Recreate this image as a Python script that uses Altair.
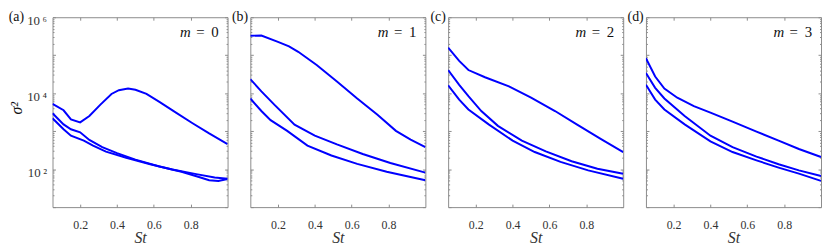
import altair as alt
import pandas as pd

# ---------------- data ----------------
# panel (a), m = 0
a1_x = [0.05, 0.11, 0.15, 0.20, 0.25, 0.31, 0.37, 0.41, 0.46, 0.50, 0.56, 0.63, 0.72, 0.81, 0.90, 1.00]
a1_y = [5250, 3550, 2040, 1700, 2510, 5010, 9550, 12000, 13200, 12300, 9550, 5890, 3090, 1620, 870, 457]
a2_x = [0.05, 0.11, 0.15, 0.20, 0.25, 0.32, 0.40, 0.50, 0.63, 0.75, 0.84, 0.90, 0.95, 1.00]
a2_y = [2950, 1510, 1120, 933, 589, 380, 263, 178, 117, 85, 63, 51, 49, 55]
a3_x = [0.05, 0.11, 0.15, 0.22, 0.27, 0.34, 0.45, 0.58, 0.70, 0.83, 0.93, 1.00]
a3_y = [2190, 1120, 760, 562, 417, 288, 200, 135, 98, 74, 60, 56]

# panel (b), m = 1
b1_x = [0.05, 0.11, 0.20, 0.26, 0.31, 0.41, 0.52, 0.63, 0.74, 0.84, 0.92, 1.00]
b1_y = [324000, 331000, 224000, 170000, 123000, 55000, 20400, 7240, 2690, 1020, 600, 380]
b2_x = [0.05, 0.11, 0.18, 0.29, 0.40, 0.52, 0.66, 0.81, 1.00]
b2_y = [23400, 11200, 5010, 1480, 759, 447, 251, 145, 81]
b3_x = [0.05, 0.11, 0.16, 0.25, 0.36, 0.49, 0.63, 0.79, 1.00]
b3_y = [7240, 3390, 1950, 1020, 417, 229, 138, 85, 51]

# panel (c), m = 2
c1_x = [0.05, 0.11, 0.16, 0.25, 0.38, 0.50, 0.63, 0.75, 0.88, 1.00]
c1_y = [158000, 70800, 40700, 26300, 15100, 7590, 3390, 1480, 617, 282]
c2_x = [0.05, 0.11, 0.16, 0.23, 0.32, 0.45, 0.58, 0.72, 0.86, 1.00]
c2_y = [40700, 16600, 8320, 3390, 1380, 562, 295, 162, 102, 76]
c3_x = [0.05, 0.11, 0.16, 0.27, 0.40, 0.52, 0.66, 0.81, 1.00]
c3_y = [16200, 6760, 3720, 1510, 562, 282, 155, 93, 56]

# panel (d), m = 3
d1_x = [0.05, 0.10, 0.15, 0.22, 0.31, 0.40, 0.52, 0.65, 0.77, 0.88, 1.00]
d1_y = [83200, 27500, 13200, 7590, 4570, 3090, 1780, 977, 562, 339, 209]
d2_x = [0.05, 0.10, 0.15, 0.26, 0.40, 0.52, 0.65, 0.77, 0.88, 1.00]
d2_y = [33900, 13800, 7240, 2510, 759, 380, 214, 135, 93, 66]
d3_x = [0.05, 0.10, 0.15, 0.26, 0.40, 0.52, 0.65, 0.77, 0.88, 1.00]
d3_y = [16600, 6760, 3720, 1510, 537, 282, 170, 110, 76, 49]

panel_letters = ["(a)", "(b)", "(c)", "(d)"]
panel_m = ["0", "1", "2", "3"]
x_ticks = [0.2, 0.4, 0.6, 0.8]
y_major = [10, 100, 1000, 10000, 100000, 1000000]
y_labels = [100, 10000, 1000000]
y_minor = [k * 10 ** e for e in range(1, 6) for k in range(2, 10)]

curves = [
    [(a1_x, a1_y), (a2_x, a2_y), (a3_x, a3_y)],
    [(b1_x, b1_y), (b2_x, b2_y), (b3_x, b3_y)],
    [(c1_x, c1_y), (c2_x, c2_y), (c3_x, c3_y)],
    [(d1_x, d1_y), (d2_x, d2_y), (d3_x, d3_y)],
]

rows = []
for p, plist in enumerate(curves):
    for c, (xs, ys) in enumerate(plist):
        for xv, yv in zip(xs, ys):
            rows.append({"panel": p, "curve": c, "St": xv, "sigma2": yv})
data = pd.DataFrame(rows)

# ---------------- style ----------------
W, H = 177, 192
FRAME = "#8c8c8c"
TXT = "#333333"
SERIF = "'Liberation Serif', 'DejaVu Serif', serif"
LINE = "#0000ff"


def make_panel(i):
    df = data[data.panel == i]
    xs = alt.Scale(domain=[0.05, 1.0], nice=False, zero=False)
    ys = alt.Scale(type="log", domain=[10, 1e6], nice=False)
    base = alt.Chart(df)

    x_main = alt.Axis(
        values=x_ticks, format=".1f", ticks=False, tickSize=0, domain=False, grid=False,
        labelFont=SERIF, labelFontSize=12, labelColor=TXT, labelPadding=13,
        title="St", titleFont=SERIF, titleFontSize=16, titleFontStyle="italic",
        titleFontWeight="normal", titleColor=TXT, titleBaseline="top", titleY=23,
    )
    if i == 0:
        y_enc = alt.Y("sigma2:Q", scale=ys, axis=alt.Axis(
            values=y_labels, ticks=False, tickSize=0, domain=False, grid=False,
            labelFont=SERIF, labelFontSize=13, labelColor=TXT, labelPadding=6,
            labelOffset=3, title=None,
            labelExpr="datum.value == 100 ? '10\u2009\u00b2' : datum.value == 10000 ? '10\u2009\u2074' : '10\u2009\u2076'",
        ))
    else:
        y_enc = alt.Y("sigma2:Q", scale=ys, axis=None)

    lines = base.mark_line(color=LINE, strokeWidth=2, clip=True).encode(
        x=alt.X("St:Q", scale=xs, axis=x_main),
        y=y_enc,
        detail="curve:N",
    )

    def tick_axis_x(orient):
        return alt.X("St:Q", scale=xs, axis=alt.Axis(
            orient=orient, offset=-H, values=x_ticks, labels=False, domain=False,
            grid=False, ticks=True, tickSize=3, tickColor=FRAME, title=None))

    def tick_axis_y(orient, vals, size):
        return alt.Y("sigma2:Q", scale=ys, axis=alt.Axis(
            orient=orient, offset=-W, values=vals, labels=False, domain=False,
            grid=False, ticks=True, tickSize=size, tickColor=FRAME, title=None))

    dummy = base.mark_point(opacity=0, size=1)
    t1 = dummy.encode(x=tick_axis_x("top"), y=tick_axis_y("right", y_major, 3))
    t2 = dummy.encode(x=tick_axis_x("bottom"), y=tick_axis_y("left", y_major, 3))
    t3 = dummy.encode(x=alt.X("St:Q", scale=xs, axis=None), y=tick_axis_y("right", y_minor, 1.5))
    t4 = dummy.encode(x=alt.X("St:Q", scale=xs, axis=None), y=tick_axis_y("left", y_minor, 1.5))

    one = pd.DataFrame({"t": [panel_letters[i]]})
    if i == 0:
        letter = alt.Chart(one).mark_text(
            font=SERIF, fontSize=14, color="#111", align="left", baseline="top"
        ).encode(text="t:N", x=alt.value(-44.3), y=alt.value(-7))
    else:
        letter = alt.Chart(one).mark_text(
            font=SERIF, fontSize=14, color="#111", align="right", baseline="top"
        ).encode(text="t:N", x=alt.value(-2.3), y=alt.value(-7))

    m_df = pd.DataFrame({"t": ["m"]})
    eq_df = pd.DataFrame({"t": ["="]})
    v_df = pd.DataFrame({"t": [panel_m[i]]})
    mt = alt.Chart(m_df).mark_text(font=SERIF, fontSize=15, fontStyle="italic", color="#111",
                                   align="center", baseline="middle").encode(
        text="t:N", x=alt.value(W - 42.7), y=alt.value(15))
    eqt = alt.Chart(eq_df).mark_text(font=SERIF, fontSize=15, color="#111",
                                     align="center", baseline="middle").encode(
        text="t:N", x=alt.value(W - 27.5), y=alt.value(15))
    vt = alt.Chart(v_df).mark_text(font=SERIF, fontSize=15, color="#111",
                                   align="center", baseline="middle").encode(
        text="t:N", x=alt.value(W - 12.8), y=alt.value(15))

    layers = [t1, t2, t3, t4, lines, letter, mt, eqt, vt]
    if i == 0:
        sig = alt.Chart(pd.DataFrame({"t": ["\u03c3\u00b2"]})).mark_text(
            font=SERIF, fontSize=16, fontStyle="italic", color="#111",
            align="center", baseline="middle", angle=270
        ).encode(text="t:N", x=alt.value(-36.3), y=alt.value(92))
        layers.append(sig)

    return alt.layer(*layers).resolve_axis(x="independent", y="independent").properties(
        width=W, height=H)


panels = [make_panel(i) for i in range(4)]
chart = alt.hconcat(*panels, spacing=23, bounds="flush").properties(
    padding=0, background="white"
).configure_view(stroke=FRAME, strokeWidth=1)

chart.save("out.html", embed_options={"renderer": "svg", "actions": False})
